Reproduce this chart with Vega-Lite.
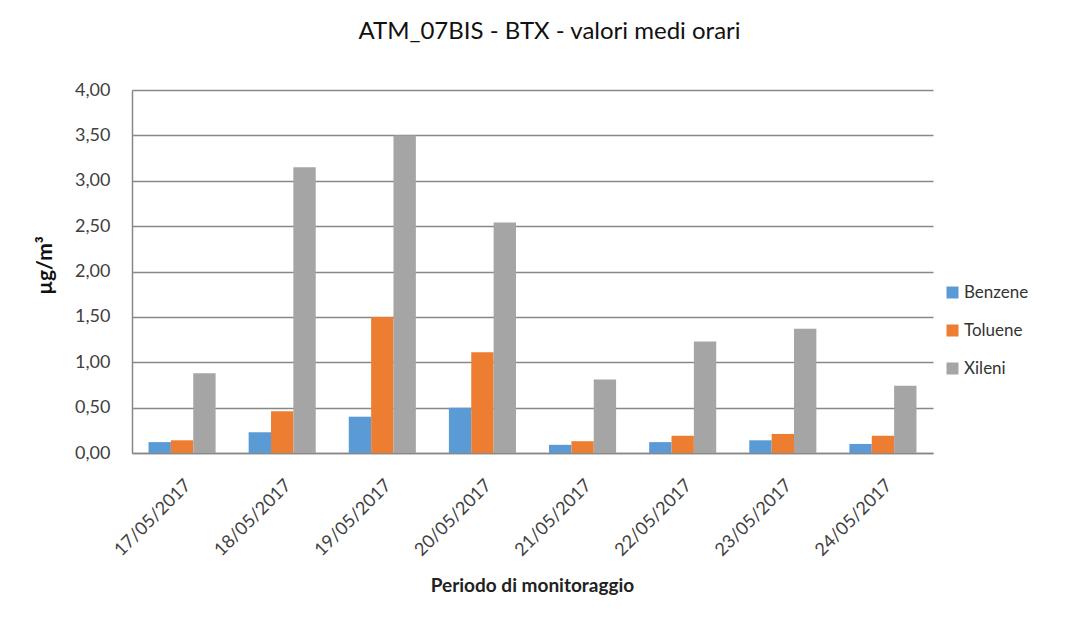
{
  "$schema": "https://vega.github.io/schema/vega-lite/v6.json",
  "width": 801,
  "height": 363,
  "autosize": {"type": "none"},
  "padding": {"left": 132, "top": 90, "right": 150, "bottom": 171},
  "background": "white",
  "title": {
    "text": "ATM_07BIS - BTX - valori medi orari",
    "font": "Lato",
    "fontSize": 24,
    "fontWeight": "normal",
    "color": "#111111",
    "anchor": "middle",
    "offset": 37,
    "dx": 17
  },
  "config": {
    "locale": {"number": {"decimal": ",", "thousands": ".", "grouping": [3], "currency": ["€", ""]}},
    "view": {"stroke": null},
    "font": "Lato"
  },
  "data": {
    "values": [
      {"data": "17/05/2017", "inquinante": "Benzene", "valore": 0.12},
      {"data": "17/05/2017", "inquinante": "Toluene", "valore": 0.14},
      {"data": "17/05/2017", "inquinante": "Xileni", "valore": 0.88},
      {"data": "18/05/2017", "inquinante": "Benzene", "valore": 0.23},
      {"data": "18/05/2017", "inquinante": "Toluene", "valore": 0.46},
      {"data": "18/05/2017", "inquinante": "Xileni", "valore": 3.15},
      {"data": "19/05/2017", "inquinante": "Benzene", "valore": 0.40},
      {"data": "19/05/2017", "inquinante": "Toluene", "valore": 1.50},
      {"data": "19/05/2017", "inquinante": "Xileni", "valore": 3.50},
      {"data": "20/05/2017", "inquinante": "Benzene", "valore": 0.50},
      {"data": "20/05/2017", "inquinante": "Toluene", "valore": 1.11},
      {"data": "20/05/2017", "inquinante": "Xileni", "valore": 2.54},
      {"data": "21/05/2017", "inquinante": "Benzene", "valore": 0.09},
      {"data": "21/05/2017", "inquinante": "Toluene", "valore": 0.13},
      {"data": "21/05/2017", "inquinante": "Xileni", "valore": 0.81},
      {"data": "22/05/2017", "inquinante": "Benzene", "valore": 0.12},
      {"data": "22/05/2017", "inquinante": "Toluene", "valore": 0.19},
      {"data": "22/05/2017", "inquinante": "Xileni", "valore": 1.23},
      {"data": "23/05/2017", "inquinante": "Benzene", "valore": 0.14},
      {"data": "23/05/2017", "inquinante": "Toluene", "valore": 0.21},
      {"data": "23/05/2017", "inquinante": "Xileni", "valore": 1.37},
      {"data": "24/05/2017", "inquinante": "Benzene", "valore": 0.10},
      {"data": "24/05/2017", "inquinante": "Toluene", "valore": 0.19},
      {"data": "24/05/2017", "inquinante": "Xileni", "valore": 0.74}
    ]
  },
  "mark": {"type": "bar"},
  "encoding": {
    "x": {
      "field": "data",
      "type": "nominal",
      "sort": null,
      "scale": {"paddingInner": 0.33, "paddingOuter": 0.165},
      "axis": {
        "title": "Periodo di monitoraggio",
        "titleFont": "Lato",
        "titleFontSize": 19,
        "titleFontWeight": "bold",
        "titleColor": "#222222",
        "titleX": 400,
        "titleY": 132,
        "titleBaseline": "middle",
        "labelAngle": -45,
        "labelFont": "Lato",
        "labelFontSize": 18,
        "labelColor": "#404040",
        "labelPadding": 23,
        "labelDx": -16,
        "ticks": false,
        "domainColor": "#888888",
        "domainWidth": 1.5
      }
    },
    "xOffset": {"field": "inquinante", "type": "nominal", "sort": ["Benzene", "Toluene", "Xileni"]},
    "y": {
      "field": "valore",
      "type": "quantitative",
      "scale": {"domain": [0, 4]},
      "axis": {
        "title": "µg/m³",
        "titleFont": "Lato",
        "titleFontSize": 21,
        "titleFontWeight": "bold",
        "titleColor": "#111111",
        "titleX": -87,
        "titleY": 175,
        "titleAngle": -90,
        "titleBaseline": "middle",
        "titleAlign": "center",
        "values": [0, 0.5, 1, 1.5, 2, 2.5, 3, 3.5, 4],
        "format": ".2f",
        "labelFont": "Lato",
        "labelFontSize": 18,
        "labelColor": "#404040",
        "labelPadding": 22,
        "ticks": false,
        "gridColor": "#888888",
        "gridWidth": 1.5,
        "domainColor": "#888888",
        "domainWidth": 1.5
      }
    },
    "color": {
      "field": "inquinante",
      "type": "nominal",
      "scale": {"domain": ["Benzene", "Toluene", "Xileni"], "range": ["#5B9BD5", "#ED7D31", "#A5A5A5"]},
      "legend": {
        "title": null,
        "orient": "none",
        "legendX": 812,
        "legendY": 194,
        "symbolType": "square",
        "symbolSize": 144,
        "symbolStrokeWidth": 0,
        "symbolOpacity": 1,
        "labelFont": "Lato",
        "labelFontSize": 17,
        "labelColor": "#333333",
        "labelOffset": 3,
        "rowPadding": 20
      }
    }
  }
}
